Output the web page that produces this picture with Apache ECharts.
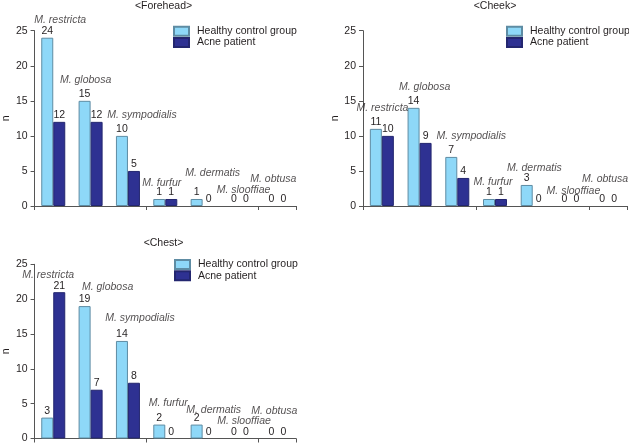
<!DOCTYPE html>
<html>
<head>
<meta charset="utf-8">
<script src="https://cdn.jsdelivr.net/npm/echarts@6/dist/echarts.min.js"></script>
<style>
  html, body { margin: 0; padding: 0; background: #fff; }
  #chart { width: 629px; height: 444px; }
</style>
</head>
<body>
<div id="chart"></div>
<script>
// values
const species = ['M. restricta', 'M. globosa', 'M. sympodialis', 'M. furfur', 'M. dermatis', 'M. slooffiae', 'M. obtusa']
const seriesNames = ['Healthy control group', 'Acne patient']
const panelTitles = ['<Forehead>', '<Cheek>', '<Chest>']
const foreheadHealthy = [24, 15, 10, 1, 1, 0, 0]
const foreheadAcne = [12, 12, 5, 1, 0, 0, 0]
const cheekHealthy = [11, 14, 7, 1, 3, 0, 0]
const cheekAcne = [10, 9, 4, 1, 0, 0, 0]
const chestHealthy = [3, 19, 14, 2, 2, 0, 0]
const chestAcne = [21, 7, 8, 0, 0, 0, 0]
const yTicks = [0, 5, 10, 15, 20, 25]

// layout of the three panels (pixels)
const panels = [
    {healthy: foreheadHealthy, acne: foreheadAcne, left: 31, top: 30.7, width: 265, height: 175.3, titleTop: 1, legendLeft: 173, legendTop: 25.5},
    {healthy: cheekHealthy, acne: cheekAcne, left: 363, top: 30.7, width: 264, height: 175.3, titleTop: 1, legendLeft: 506, legendTop: 25.5},
    {healthy: chestHealthy, acne: chestAcne, left: 31, top: 264.3, width: 265, height: 175.7, titleTop: 237.5, legendLeft: 174, legendTop: 258.8},
]
// where the italic species names sit: [dx from category centre, height above the taller bar]
const nameOffsets = [
    [[7, 17.6], [-5, 21], [14, 21], [-3.5, 16], [10, 26], [3.5, 16], [-4, 27]],
    [[0.6, 21], [5, 21], [14, 21], [-2, 17], [1.6, 17], [3, 15], [-3, 27]],
    [[-5, 17], [17, 19], [12, 22.6], [3, 21], [11, 14], [4, 17], [-3, 27]],
]

const FONT = 'Liberation Sans'
const TEXT = '#231F20'
const AXIS = '#555555'
const LIGHT = '#8ED8F8'
const DARK = '#2E3192'

const myChart = echarts.init(document.getElementById('chart'))

const grid = [], xAxis = [], yAxis = [], series = [], legend = [], title = []

panels.forEach((p, i) => {
    grid.push({left: p.left, top: p.top, width: p.width, height: p.height})
    title.push({
        text: panelTitles[i],
        left: p.left + p.width / 2,
        top: p.titleTop,
        padding: 0,
        textAlign: 'center',
        textStyle: {fontFamily: FONT, fontSize: 10.5, fontWeight: 'normal', color: TEXT},
    })
    xAxis.push({
        type: 'category',
        gridIndex: i,
        data: species,
        axisLine: {lineStyle: {color: AXIS, width: 1}},
        axisTick: {show: true, length: 4, lineStyle: {color: AXIS}},
        axisLabel: {show: false},
    })
    yAxis.push({
        type: 'value',
        gridIndex: i,
        min: yTicks[0],
        max: yTicks[yTicks.length - 1],
        interval: yTicks[1] - yTicks[0],
        name: 'n',
        nameLocation: 'middle',
        nameGap: 18,
        nameTextStyle: {fontFamily: FONT, fontSize: 10.5, color: TEXT},
        splitLine: {show: false},
        axisLine: {show: true, lineStyle: {color: AXIS, width: 1}},
        axisTick: {show: true, length: 4, lineStyle: {color: AXIS}},
        axisLabel: {margin: 7, fontFamily: FONT, fontSize: 10.5, color: TEXT},
    })
    legend.push({
        data: seriesNames,
        orient: 'vertical',
        left: p.legendLeft,
        top: p.legendTop,
        padding: 0,
        itemWidth: 15,
        itemHeight: 9,
        itemGap: 0,
        icon: 'rect',
        selectedMode: false,
        textStyle: {fontFamily: FONT, fontSize: 10.5, color: TEXT, lineHeight: 11.3, padding: [0, 0, 0, 3], overflow: 'none'},
    })

    const barData = (vals, border) => vals.map((v) => ({
        value: v,
        itemStyle: {borderWidth: v === 0 ? 0 : 1, borderColor: border},
    }))
    const valueLabel = {
        show: true,
        position: 'top',
        distance: 1,
        fontFamily: FONT,
        fontSize: 10.5,
        color: TEXT,
    }
    series.push({
        name: seriesNames[0],
        type: 'bar',
        xAxisIndex: i,
        yAxisIndex: i,
        barWidth: 12,
        barGap: 0,
        itemStyle: {color: LIGHT, borderColor: '#5E8CA3', borderWidth: 1},
        label: valueLabel,
        data: barData(p.healthy, '#5E8CA3'),
    })
    series.push({
        name: seriesNames[1],
        type: 'bar',
        xAxisIndex: i,
        yAxisIndex: i,
        barWidth: 12,
        barGap: 0,
        itemStyle: {color: DARK, borderColor: '#23266F', borderWidth: 1},
        label: valueLabel,
        data: barData(p.acne, '#23266F'),
    })
    // species names floating above the taller bar of each pair
    series.push({
        type: 'scatter',
        xAxisIndex: i,
        yAxisIndex: i,
        symbolSize: 0,
        silent: true,
        z: 5,
        data: species.map((s, k) => ({
            value: Math.max(p.healthy[k], p.acne[k]),
            label: {offset: [nameOffsets[i][k][0], -(nameOffsets[i][k][1] - 6)]},
        })),
        label: {
            show: true,
            position: 'top',
            distance: 0,
            lineHeight: 12,
            fontFamily: FONT,
            fontStyle: 'italic',
            fontSize: 10.5,
            color: TEXT,
            formatter: (prm) => species[prm.dataIndex],
        },
    })
})

myChart.setOption({
    animation: false,
    backgroundColor: '#fff',
    title,
    legend,
    grid,
    xAxis,
    yAxis,
    series,
})
</script>
</body>
</html>
